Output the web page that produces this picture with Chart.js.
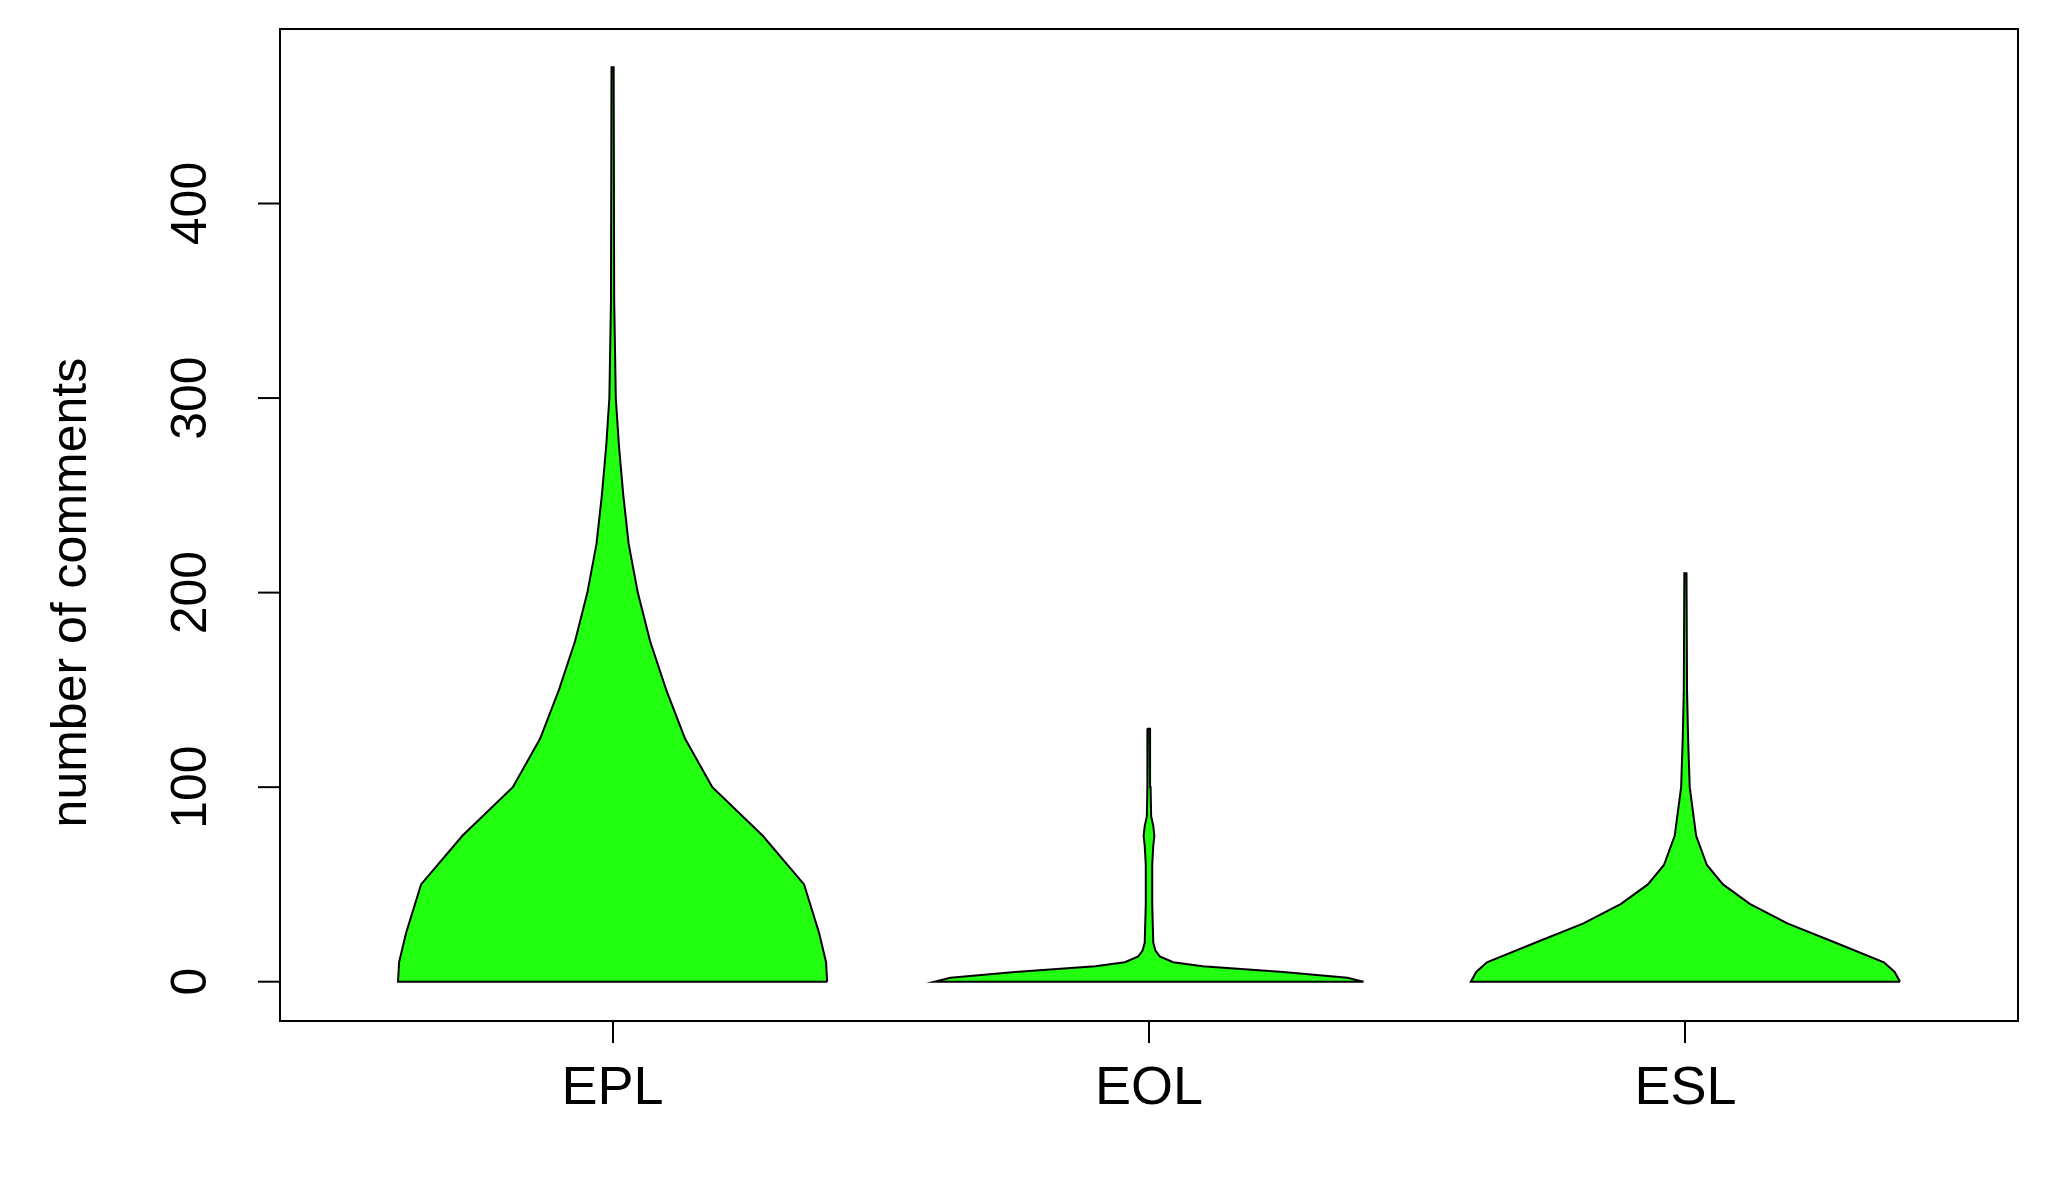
<!DOCTYPE html>
<html><head><meta charset="utf-8">
<script src="https://cdn.jsdelivr.net/npm/chart.js@4"></script>
<style>html,body{margin:0;padding:0;background:#fff}#w{width:2048px;height:1183px}</style>
</head><body><div id="w"><canvas id="c"></canvas></div>
<script>
const categories = ['EPL','EOL','ESL'];
const yTicks = [0,100,200,300,400];
const medians = [3,3,3];
// violin half-widths (category units) at given levels
const eplLevels = [0,10,25,50,75,100,125,150,175,200,225,250,275,300,350,470];
const eplWidths = [0.4,0.398,0.385,0.357,0.28,0.186,0.135,0.1,0.07,0.047,0.03,0.02,0.012,0.006,0.003,0.002];
const eolLevels = [0,2,5,8,10,13,16,20,40,60,70,75,80,85,100,130];
const eolWidths = [0.4,0.37,0.25,0.1,0.045,0.02,0.012,0.008,0.006,0.006,0.008,0.01,0.008,0.004,0.003,0.002];
const eslLevels = [0,5,10,20,30,40,50,60,75,100,125,150,210];
const eslWidths = [0.4,0.39,0.37,0.28,0.19,0.12,0.07,0.04,0.02,0.008,0.005,0.003,0.002];

function poly(center, lv, wd){
  const pts=[];
  for(let i=0;i<lv.length;i++) pts.push({x:center+wd[i],y:lv[i]});
  for(let i=lv.length-1;i>=0;i--) pts.push({x:center-wd[i],y:lv[i]});
  pts.push({x:center+wd[0],y:lv[0]});
  return pts;
}
const sets=[[eplLevels,eplWidths],[eolLevels,eolWidths],[eslLevels,eslWidths]].map((s,i)=>({
  type:'line',data:poly(i+1,s[0],s[1]),showLine:true,fill:'shape',
  backgroundColor:'#22ff11',borderColor:'#000',borderWidth:2,pointRadius:0,tension:0
}));
sets.push({type:'scatter',data:medians.map((m,i)=>({x:i+1,y:m})),pointRadius:10,
  backgroundColor:'#fff',borderColor:'#fff',pointBorderWidth:0});

const FONT='"Liberation Sans", Arial, sans-serif';
const yPlug={id:'yPlug',afterDraw(ch){
  const c=ch.ctx,a=ch.chartArea,y=ch.scales.y;
  c.save();c.strokeStyle='#000';c.lineWidth=2;
  c.strokeRect(a.left,a.top,a.right-a.left,a.bottom-a.top);
  c.fillStyle='#000';c.font='50px '+FONT;c.textAlign='center';c.textBaseline='middle';
  yTicks.forEach(v=>{const p=y.getPixelForValue(v);
    c.beginPath();c.moveTo(a.left,p);c.lineTo(a.left-22,p);c.stroke();
    c.save();c.translate(a.left-88,p);c.rotate(-Math.PI/2);c.fillText(String(v),0,0);c.restore();});
  c.save();c.translate(72,(y.getPixelForValue(0)+y.getPixelForValue(400))/2);c.rotate(-Math.PI/2);
  c.font='50px '+FONT;c.fillText('number of comments',0,0);c.restore();
  c.restore();
}};
new Chart(document.getElementById('c'),{
  data:{datasets:sets},
  plugins:[yPlug],
  options:{responsive:true,maintainAspectRatio:false,animation:false,
    layout:{padding:{top:29,right:30,left:0,bottom:0}},
    plugins:{legend:{display:false},tooltip:{enabled:false}},
    scales:{
      x:{type:'linear',min:0.38,max:3.62,
        afterBuildTicks(s){s.ticks=[1,2,3].map(v=>({value:v}));},
        afterFit(s){s.height=162;},
        border:{display:false},
        grid:{drawOnChartArea:false,tickLength:22,color:'#000',lineWidth:2},
        ticks:{callback:(v)=>categories[v-1]??'',color:'#000',font:{size:54,family:FONT},padding:14,maxRotation:0}},
      y:{min:-20.2,max:489.7,afterFit(s){s.width=280;},
        border:{display:false},grid:{display:false},ticks:{display:false}}
    }}
});
</script></body></html>
